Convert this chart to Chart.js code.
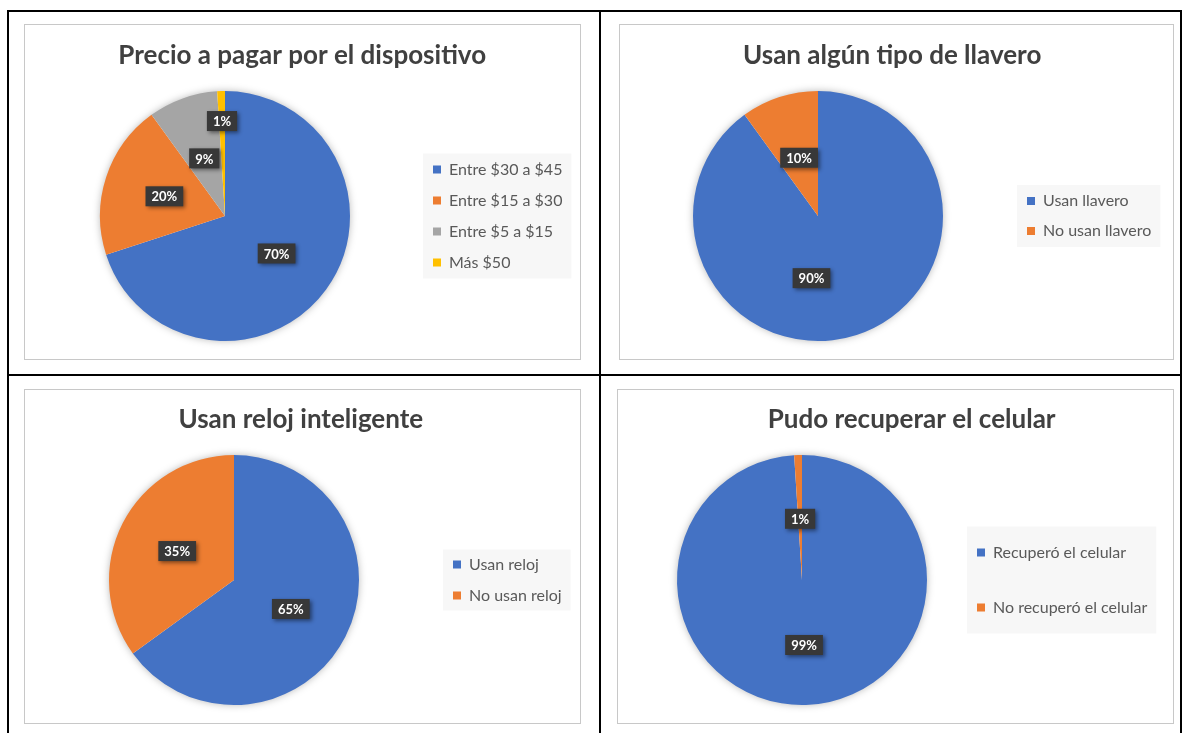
<!DOCTYPE html>
<html>
<head>
<meta charset="utf-8">
<script src="https://cdn.jsdelivr.net/npm/chart.js@4.4.1/dist/chart.umd.min.js"></script>
<style>
  body { margin: 0; background: #fff; width: 1183px; height: 733px; position: relative; overflow: hidden; }
  .line { position: absolute; background: #000; }
  .frame { position: absolute; border: 1px solid #c8c8c8; background: #fff; }
  .frame canvas { display: block; }
</style>
</head>
<body>
<div class="line" style="left:7px;top:10px;width:2px;height:723px"></div>
<div class="line" style="left:7px;top:10px;width:1175px;height:2px"></div>
<div class="line" style="left:599px;top:10px;width:2px;height:723px"></div>
<div class="line" style="left:1180px;top:10px;width:2px;height:723px"></div>
<div class="line" style="left:7px;top:374px;width:1175px;height:2px"></div>

<div class="frame" style="left:24px;top:24px"><canvas id="c1" width="555" height="334"></canvas></div>
<div class="frame" style="left:619px;top:24px"><canvas id="c2" width="553" height="334"></canvas></div>
<div class="frame" style="left:24px;top:389px"><canvas id="c3" width="555" height="333"></canvas></div>
<div class="frame" style="left:617px;top:389px"><canvas id="c4" width="555" height="333"></canvas></div>

<script>
// data
var precioLabels = ['Entre $30 a $45', 'Entre $15 a $30', 'Entre $5 a $15', 'Más $50'];
var precioValues = [70, 20, 9, 1];
var llaveroLabels = ['Usan llavero', 'No usan llavero'];
var llaveroValues = [90, 10];
var relojLabels = ['Usan reloj', 'No usan reloj'];
var relojValues = [65, 35];
var celularLabels = ['Recuperó el celular', 'No recuperó el celular'];
var celularValues = [99, 1];

var colors = ['#4472C4', '#ED7D31', '#A5A5A5', '#FFC000'];
var FONT = 'Lato';
var RADIUS = 125;

// soft shadow under the whole pie
var pieGlow = {
    id: 'pieGlow',
    beforeDatasetsDraw: function(chart){
        var arc = chart.getDatasetMeta(0).data[0];
        var p = arc.getProps(['x', 'y', 'outerRadius'], true);
        var ctx = chart.ctx;
        ctx.save();
        ctx.shadowColor = 'rgba(0,0,0,0.35)';
        ctx.shadowBlur = 9;
        ctx.fillStyle = '#fff';
        ctx.beginPath();
        ctx.arc(p.x, p.y, p.outerRadius - 1, 0, Math.PI * 2);
        ctx.fill();
        ctx.restore();
    }
};

// light grey box behind the legend
var legendBg = {
    id: 'legendBg',
    beforeDraw: function(chart, args, opts){
        var boxes = chart.legend.legendHitBoxes;
        if(!boxes || !boxes.length) return;
        var left = Infinity, right = -Infinity;
        boxes.forEach(function(b){
            left = Math.min(left, b.left);
            right = Math.max(right, b.left + b.width);
        });
        var first = boxes[0], last = boxes[boxes.length - 1];
        var top = first.top + first.height / 2 - opts.margin;
        var bottom = last.top + last.height / 2 + opts.margin;
        var ctx = chart.ctx;
        ctx.save();
        ctx.fillStyle = '#f7f7f7';
        ctx.fillRect(left - 10, top, right - left + 19, bottom - top);
        ctx.restore();
    }
};

// dark percentage callouts
var pctLabels = {
    id: 'pctLabels',
    afterDatasetsDraw: function(chart, args, opts){
        var ctx = chart.ctx;
        var values = chart.data.datasets[0].data;
        var total = values.reduce(function(a, b){ return a + b; }, 0);
        chart.getDatasetMeta(0).data.forEach(function(arc, i){
            var p = arc.getProps(['x', 'y', 'startAngle', 'endAngle', 'outerRadius'], true);
            var mid = (p.startAngle + p.endAngle) / 2 + (opts.turn[i] || 0) * Math.PI / 180;
            var d = p.outerRadius * (opts.dist[i] || 0.51);
            var x = p.x + Math.cos(mid) * d;
            var y = p.y + Math.sin(mid) * d;
            var text = Math.round(values[i] / total * 100) + '%';
            ctx.save();
            ctx.font = 'bold 13px ' + FONT;
            var w = ctx.measureText(text).width + 12;
            var h = 20;
            ctx.shadowColor = 'rgba(0,0,0,0.45)';
            ctx.shadowBlur = 4;
            ctx.shadowOffsetX = 2;
            ctx.shadowOffsetY = 2;
            ctx.fillStyle = '#383838';
            ctx.fillRect(x - w / 2, y - h / 2, w, h);
            ctx.shadowColor = 'transparent';
            ctx.fillStyle = '#fff';
            ctx.textAlign = 'center';
            ctx.textBaseline = 'middle';
            ctx.fillText(text, x, y + 1);
            ctx.restore();
        });
    }
};

var measureCtx = document.createElement('canvas').getContext('2d');

function draw_pie(id, spec){
    var canvas = document.getElementById(id);
    var W = canvas.width, H = canvas.height;
    var fs = 16, titleFs = 26;
    var pad = spec.legendStep - fs;
    measureCtx.font = fs + 'px ' + FONT;
    var maxW = 0;
    spec.labels.forEach(function(l){ maxW = Math.max(maxW, measureCtx.measureText(l).width); });
    var itemW = 8 + fs / 2 + maxW;
    var legendLeft = spec.legendX - pad;
    var legendW = pad + itemW + 10;
    var titleLine = titleFs * 1.2;
    var titleTop = spec.titleY - titleLine / 2;
    var titleBottom = (spec.cy - RADIUS) - titleTop - titleLine;

    new Chart(canvas, {
        type: 'pie',
        data: {
            labels: spec.labels,
            datasets: [{
                data: spec.values,
                backgroundColor: colors.slice(0, spec.values.length),
                borderWidth: 0
            }]
        },
        options: {
            responsive: false,
            animation: false,
            layout: {
                padding: {
                    left: 2 * spec.cx - legendLeft,
                    right: W - legendLeft - legendW,
                    top: 0,
                    bottom: H - (spec.cy + RADIUS)
                }
            },
            plugins: {
                title: {
                    display: true,
                    text: spec.title,
                    color: '#404040',
                    font: {family: FONT, size: titleFs, weight: 'bold'},
                    padding: {top: titleTop, bottom: titleBottom}
                },
                legend: {
                    position: 'right',
                    fullSize: false,
                    align: 'center',
                    labels: {
                        boxWidth: 8,
                        boxHeight: 8,
                        padding: pad,
                        color: '#595959',
                        font: {family: FONT, size: fs}
                    }
                },
                tooltip: {enabled: false},
                legendBg: {margin: spec.bgMargin},
                pctLabels: {dist: spec.dist, turn: spec.turn}
            }
        },
        plugins: [legendBg, pieGlow, pctLabels]
    });
}

draw_pie('c1', {
    title: 'Precio a pagar por el dispositivo',
    labels: precioLabels, values: precioValues,
    cx: 200, cy: 191, titleY: 31,
    legendX: 408, legendStep: 31, bgMargin: 16,
    dist: [0.51, 0.51, 0.49, 0.76], turn: [0, 0, 0, 0]
});
draw_pie('c2', {
    title: 'Usan algún tipo de llavero',
    labels: llaveroLabels, values: llaveroValues,
    cx: 198, cy: 191, titleY: 31,
    legendX: 407, legendStep: 30, bgMargin: 16,
    dist: [0.5, 0.49], turn: [24, 0]
});
draw_pie('c3', {
    title: 'Usan reloj inteligente',
    labels: relojLabels, values: relojValues,
    cx: 209, cy: 190, titleY: 30,
    legendX: 428, legendStep: 31, bgMargin: 15,
    dist: [0.51, 0.51], turn: [0, 0]
});
draw_pie('c4', {
    title: 'Pudo recuperar el celular',
    labels: celularLabels, values: celularValues,
    cx: 184, cy: 190, titleY: 30,
    legendX: 359, legendStep: 55, bgMargin: 26,
    dist: [0.52, 0.49], turn: [0, 0]
});
</script>
</body>
</html>
